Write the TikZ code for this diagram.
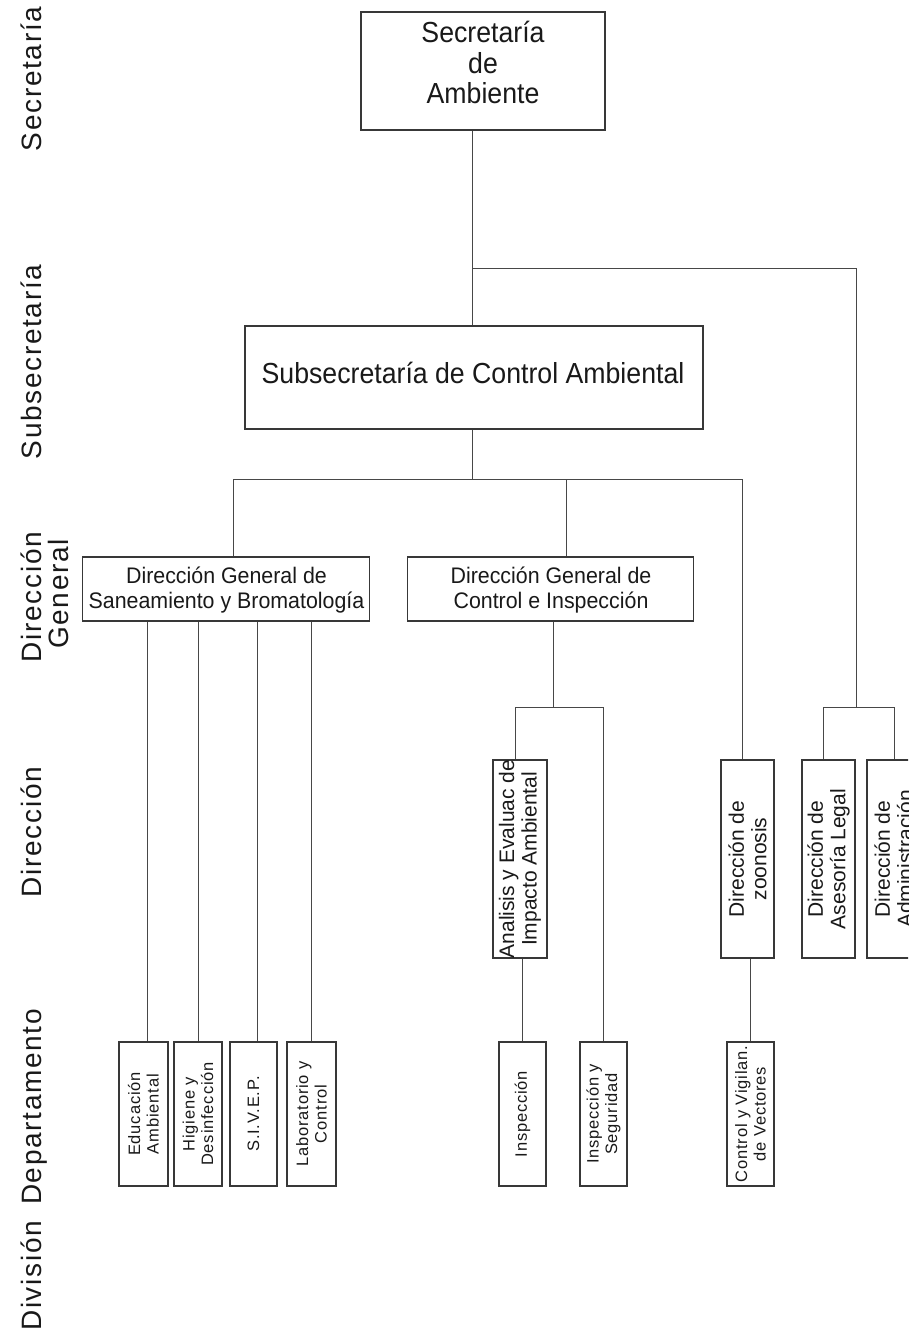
\documentclass[tikz,border=0pt]{standalone}
\usepackage{fontspec}
\setmainfont{Liberation Sans}
\newfontfamily\lblfont[LetterSpace=6]{Liberation Sans}
\newfontfamily\depfont[LetterSpace=5]{Liberation Sans}
\newfontfamily\bigfont[FakeStretch=0.92]{Liberation Sans}
\newfontfamily\dgfont[FakeStretch=0.95]{Liberation Sans}
\begin{document}
\begin{tikzpicture}[x=1pt,y=-1pt,
  orgbox/.style={draw=black!78, line width=1.2pt, inner sep=0pt},
  conn/.style={draw=black!72, line width=1pt},
  bigtxt/.style={inner sep=0pt, text=black!90, font=\fontsize{29}{31}\bigfont, anchor=base},
  dgtxt/.style={inner sep=0pt, text=black!90, font=\fontsize{22.5}{25}\dgfont, anchor=base},
  dirtxt/.style={inner sep=0pt, text=black!90, rotate=90, align=center, font=\fontsize{21}{22.5}\selectfont},
  deptxt/.style={inner sep=0pt, text=black!90, rotate=90, align=center, font=\fontsize{16.5}{18.5}\depfont},
  lbltxt/.style={inner sep=0pt, text=black!90, rotate=90, anchor=base, font=\fontsize{28}{28}\lblfont}
]
\clip (0,0) rectangle (908,1333);
\fill[white] (0,0) rectangle (908,1333);

% ---- level labels ----
\node[lbltxt] (lsec) at (41,79) {Secretaría};
\node[lbltxt] (lsub) at (41,362) {Subsecretaría};
\node[lbltxt] (ldg1) at (41,597) {Dirección};
\node[lbltxt] (ldg2) at (68,594) {General};
\node[lbltxt] (ldir) at (41,832) {Dirección};
\node[lbltxt] (ldep) at (41,1107) {Departamento};
\node[lbltxt, anchor=base west] (ldiv) at (41,1331) {División};

% ---- boxes ----
\node[orgbox, minimum width=244, minimum height=118] (sec) at (483,71) {};
\node[orgbox, minimum width=458, minimum height=103] (sub) at (474,377.5) {};
\node[orgbox, minimum width=287, minimum height=64] (dg1) at (226.3,589) {};
\node[orgbox, minimum width=286, minimum height=64] (dg2) at (550.6,589) {};
\node[orgbox, minimum width=54, minimum height=198] (ana) at (520,859) {};
\node[orgbox, minimum width=53, minimum height=198] (zoo) at (747.5,859) {};
\node[orgbox, minimum width=53, minimum height=198] (ase) at (828.5,859) {};
\node[orgbox, minimum width=53, minimum height=198] (adm) at (893.5,859) {};
\node[orgbox, minimum width=49, minimum height=144] (edu) at (143.5,1114) {};
\node[orgbox, minimum width=48, minimum height=144] (hig) at (198,1114) {};
\node[orgbox, minimum width=47, minimum height=144] (siv) at (253.5,1114) {};
\node[orgbox, minimum width=49, minimum height=144] (lab) at (311.5,1114) {};
\node[orgbox, minimum width=47, minimum height=144] (ins) at (522.5,1114) {};
\node[orgbox, minimum width=47, minimum height=144] (iys) at (603.5,1114) {};
\node[orgbox, minimum width=47, minimum height=144] (cvv) at (750.5,1114) {};

% ---- box texts ----
\node[bigtxt] (sect1) at (483,42) {Secretaría};
\node[bigtxt] (sect2) at (483,73) {de};
\node[bigtxt] (sect3) at (483,103) {Ambiente};
\node[bigtxt] (subt) at (473,383) {Subsecretaría de Control Ambiental};
\node[dgtxt] (dg1a) at (226.5,583) {Dirección General de};
\node[dgtxt] (dg1b) at (226.5,608) {Saneamiento y Bromatología};
\node[dgtxt] (dg2a) at (551,583) {Dirección General de};
\node[dgtxt] (dg2b) at (551,608) {Control e Inspección};
\node[dirtxt] (anat) at (ana.center) {Analisis y Evaluac de\\Impacto Ambiental};
\node[dirtxt] (zoot) at (zoo.center) {Dirección de\\zoonosis};
\node[dirtxt] (aset) at (ase.center) {Dirección de\\Asesoría Legal};
\node[dirtxt] (admt) at (adm.center) {Dirección de\\Administración};
\node[deptxt] (edut) at (edu.center) {Educación\\Ambiental};
\node[deptxt] (higt) at (hig.center) {Higiene y\\Desinfección};
\node[deptxt] (sivt) at (siv.center) {S.I.V.E.P.};
\node[deptxt] (labt) at (lab.center) {Laboratorio y\\Control};
\node[deptxt] (inst) at (ins.center) {Inspección};
\node[deptxt] (iyst) at (iys.center) {Inspección y\\Seguridad};
\node[deptxt] (cvvt) at (cvv.center) {Control y Vigilan.\\de Vectores};

% ---- connector coordinates ----
\coordinate (j1) at (472.5,268);
\coordinate (rb) at (856,707);
\coordinate (rbL) at (823,707);
\coordinate (rbR) at (894,707);
\coordinate (j2) at (472.5,479);
\coordinate (b1L) at (233,479);
\coordinate (b1M) at (566,479);
\coordinate (b1R) at (742,479);
\coordinate (j3) at (553,707);
\coordinate (b3L) at (515,707);
\coordinate (b3R) at (603,707);
\coordinate (ledu) at (147,800);
\coordinate (lhig) at (198,800);
\coordinate (lsiv) at (257,800);
\coordinate (llab) at (311,800);
\coordinate (lins) at (522,1000);
\coordinate (lcvv) at (750,1000);

% ---- connectors ----
\draw[conn] (j1 |- sec.south) -- (j1 |- sub.north);
\draw[conn] (j1) -| (rb);
\draw[conn] (rbL |- ase.north) -- (rbL) -- (rbR) -- (rbR |- adm.north);
\draw[conn] (j2 |- sub.south) -- (j2);
\draw[conn] (b1L |- dg1.north) -- (b1L) -- (b1R) -- (b1R |- zoo.north);
\draw[conn] (b1M) -- (b1M |- dg2.north);
\draw[conn] (ledu |- dg1.south) -- (ledu |- edu.north);
\draw[conn] (lhig |- dg1.south) -- (lhig |- hig.north);
\draw[conn] (lsiv |- dg1.south) -- (lsiv |- siv.north);
\draw[conn] (llab |- dg1.south) -- (llab |- lab.north);
\draw[conn] (j3 |- dg2.south) -- (j3);
\draw[conn] (b3L |- ana.north) -- (b3L) -- (b3R) -- (b3R |- iys.north);
\draw[conn] (lins |- ana.south) -- (lins |- ins.north);
\draw[conn] (lcvv |- zoo.south) -- (lcvv |- cvv.north);
\end{tikzpicture}
\end{document}
